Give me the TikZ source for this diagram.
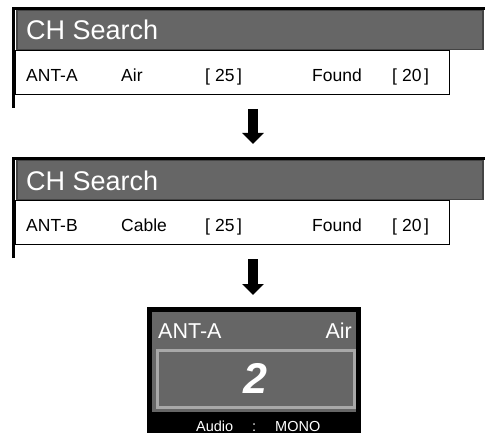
\documentclass[tikz,border=0pt]{standalone}
\usepackage{fontspec}
\setmainfont{Liberation Sans}
\usetikzlibrary{arrows.meta,positioning}
\definecolor{scrGrey}{HTML}{666666}
\definecolor{scrEdge}{HTML}{444444}
\definecolor{scrLight}{HTML}{A8A8A8}
\tikzset{
  titlebar/.style={draw=scrEdge, line width=1.5pt, fill=scrGrey, anchor=north west,
              inner sep=0pt},
  rowbox/.style={draw=black, line width=1pt, fill=white, anchor=north west, inner sep=0pt},
  frame/.style={draw=black, line width=3pt},
  ttl/.style={anchor=base west, text=white, inner sep=0pt,
              font=\fontsize{27}{27}\selectfont},
  cell/.style={anchor=base west, inner sep=0pt, font=\fontsize{17.5}{17.5}\selectfont},
  tvtxt/.style={inner sep=0pt, text=white, font=\fontsize{21.5}{21.5}\selectfont},
  tvsmall/.style={anchor=base west, inner sep=0pt, text=white,
              font=\fontsize{14.5}{14.5}\selectfont},
  bigdown/.style={line width=10pt, -{Triangle[width=21pt,length=11pt]}},
}
\begin{document}
\begin{tikzpicture}[x=1pt,y=-1pt]
        \useasboundingbox (0,0) rectangle (485,433);
        % search screens, one per antenna
        \foreach \p/\y/\ant/\src in {1/0/ANT-A/Air,2/150/ANT-B/Cable}{
          \node[rowbox,minimum width=434pt,minimum height=44pt] (row\p) at (15,50+\y){};
          \node[titlebar,minimum width=466pt,minimum height=39pt] (bar\p) at (16,10+\y){};
          \draw[frame] (13.5,108+\y) -- (13.5,8.5+\y) -- (485,8.5+\y);
          \node[ttl] (title\p) at (26,40+\y){CH Search};
          \node[cell] (ant\p) at (26,82+\y){\ant};
          \node[cell] (src\p) at (121,82+\y){\src};
          \node[cell] (tot\p) at (205,82+\y){[\hspace{5pt}25\hspace{2.5pt}]};
          \node[cell] (fnd\p) at (312,82+\y){Found};
          \node[cell] (num\p) at (392,82+\y){[\hspace{5pt}20\hspace{2.5pt}]};}
        % arrows between the screens
        \coordinate (a1) at (253,109);
        \coordinate (b1) at (253,144);
        \coordinate (a2) at (253,259);
        \coordinate (b2) at (253,295);
        \draw[bigdown] (a1) -- (b1);
        \draw[bigdown] (a2) -- (b2);
        % channel display after the search
        \node[fill=black,anchor=north west,inner sep=0pt,minimum width=214pt,
              minimum height=126pt] (tv) at (147,307){};
        \node[fill=scrGrey,anchor=north west,inner sep=0pt,minimum width=204pt,
              minimum height=100pt] (tvbg) at (152,312){};
        \node[draw=scrLight,line width=3pt,fill=scrGrey,anchor=north west,inner sep=0pt,
              minimum width=197pt,minimum height=57pt] (chbox) at (155.5,348.5){};
        \node[tvtxt,anchor=base west] (tvant) at (158,338){ANT-A};
        \node[tvtxt,anchor=base east] (tvsrc) at (352,338){Air};
        \node[text=white,inner sep=0pt,font=\fontsize{43}{43}\selectfont\bfseries\itshape]
              (chnum) at (chbox.center){2};
        \node[tvsmall] (aud) at (196,431){Audio};
        \node[tvsmall] (col) at (252,431){:};
        \node[tvsmall] (mono) at (275,431){MONO};
      \end{tikzpicture}
\end{document}
